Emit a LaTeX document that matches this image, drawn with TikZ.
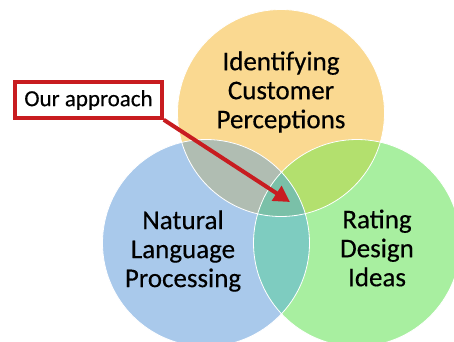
\documentclass[tikz,border=0pt]{standalone}
\usepackage{fontspec}
\setmainfont{Carlito}[FakeBold=0.35]
\usetikzlibrary{arrows.meta}
\definecolor{cOrange}{RGB}{250,217,145}
\definecolor{cBlue}{RGB}{169,201,235}
\definecolor{cGreen}{RGB}{168,239,160}
\definecolor{cOB}{RGB}{176,189,178}
\definecolor{cOG}{RGB}{179,224,110}
\definecolor{cBG}{RGB}{126,204,192}
\definecolor{cOBG}{RGB}{122,192,168}
\definecolor{cRed}{RGB}{200,28,32}
\tikzset{
  label/.style={align=center, font=\fontsize{27}{29}\selectfont, inner sep=0pt},
  rim/.style={draw=white, line width=0.8pt},
  callout/.style={draw=cRed, line width=3.5pt, fill=white, minimum width=147pt,
    minimum height=36pt, inner sep=0pt, font=\fontsize{23}{26}\selectfont},
  pointer/.style={draw=cRed, line width=4pt, -{Triangle[length=16pt,width=17pt]}}
}
\begin{document}
\begin{tikzpicture}[x=1pt,y=-1pt]
\useasboundingbox (0,0) rectangle (454,341);
\begin{scope}
\clip (0,0) rectangle (454,341);
% the three sets
\def\cO{(281,113) circle (103.5)}
\def\cB{(206,243) circle (103.5)}
\def\cG{(357,243) circle (103.5)}
\fill[cOrange] \cO;
\fill[cBlue] \cB;
\fill[cGreen] \cG;
% pairwise overlaps
\begin{scope}\clip \cO; \fill[cOB] \cB; \end{scope}
\begin{scope}\clip \cO; \fill[cOG] \cG; \end{scope}
\begin{scope}\clip \cB; \fill[cBG] \cG; \end{scope}
% common region
\begin{scope}\clip \cO; \clip \cB; \fill[cOBG] \cG; \end{scope}
\draw[rim] \cO; \draw[rim] \cB; \draw[rim] \cG;
\end{scope}
\node[label] (ident) at (281,92) {Identifying\\Customer\\Perceptions};
\node[label] (nlp) at (183,251) {Natural\\Language\\Processing};
\node[label] (rate) at (377,248) {Rating\\Design\\Ideas};
\node[callout] (ours) at (88.5,100) {Our approach};
\coordinate (tip) at (290,202);
\draw[pointer] (ours.south east) -- (tip);
\end{tikzpicture}
\end{document}
